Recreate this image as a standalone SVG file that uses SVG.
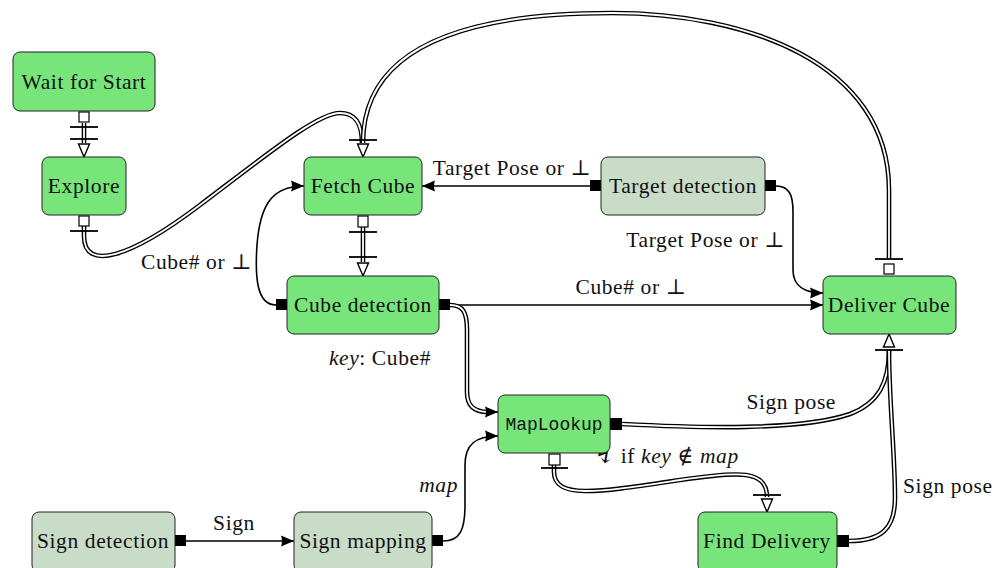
<svg xmlns="http://www.w3.org/2000/svg" width="1003" height="568" viewBox="0 0 1003 568">
<style>
.n rect{stroke:#222;stroke-width:1}
.g rect{fill:#77e57a}
.p rect{fill:#c8dcc8}
text{font-family:"Liberation Serif","DejaVu Serif",serif;font-size:21.5px;letter-spacing:0.6px;fill:#111}
.n text{text-anchor:middle}
.mono{font-family:"Liberation Mono","DejaVu Sans Mono",monospace;font-size:18px;letter-spacing:0}
.s{fill:none;stroke:#000;stroke-width:1.6}
.do{fill:none;stroke:#000;stroke-width:4.6}
.di{fill:none;stroke:#fff;stroke-width:1.8}
.bar{stroke:#000;stroke-width:1.8}
.ws{fill:#fff;stroke:#000;stroke-width:1.2}
.bs{fill:#000}
.it{font-style:italic}
.lt{font-size:24px}
</style>
<defs>
<marker id="fa" markerUnits="userSpaceOnUse" markerWidth="14" markerHeight="12" refX="13" refY="6" orient="auto" viewBox="0 0 14 12">
<path d="M0,0.5 L13,6 L0,11.5 Q2,6 0,0.5 z" fill="#000"/>
</marker>
<marker id="oa" markerUnits="userSpaceOnUse" markerWidth="16" markerHeight="14" refX="14" refY="7" orient="auto" viewBox="0 0 16 14">
<path d="M1,1.5 L14,7 L1,12.5 z" fill="#fff" stroke="#000" stroke-width="1.4"/>
</marker>
</defs>

<g id="connectors">
<!-- Wait for Start -> Explore -->
<path class="do" d="M84 123 L84 143"/>
<path class="di" d="M84 123 L84 157" marker-end="url(#oa)"/>
<rect class="ws" x="79" y="112" width="10" height="10"/>
<line class="bar" x1="70" y1="127" x2="98" y2="127"/>
<line class="bar" x1="70" y1="139" x2="98" y2="139"/>

<!-- Explore -> Fetch Cube -->
<path class="do" d="M84 226 L84 236 C84 272 130 258 200 205 C270 152 318 113 340 113 C356 113 362 124 362 143"/>
<path class="di" d="M84 226 L84 236 C84 272 130 258 200 205 C270 152 318 113 340 113 C356 113 362 124 362 143"/>
<rect class="ws" x="79" y="216" width="10" height="10"/>
<line class="bar" x1="70" y1="231" x2="98" y2="231"/>

<!-- Deliver Cube -> Fetch Cube (top arc) -->
<path class="do" d="M889 258 L889 190 C889 62 745 13 612 13 C442 13 363 58 363 143"/>
<path class="di" d="M889 258 L889 190 C889 62 745 13 612 13 C442 13 363 58 363 143"/>
<path class="di" d="M363 140 L363 157" marker-end="url(#oa)"/>
<line class="bar" x1="349" y1="140" x2="377" y2="140"/>
<rect class="ws" x="884" y="264" width="10" height="10"/>
<line class="bar" x1="875" y1="259" x2="903" y2="259"/>

<!-- Fetch Cube -> Cube detection -->
<path class="do" d="M363 227 L363 262"/>
<path class="di" d="M363 227 L363 276" marker-end="url(#oa)"/>
<rect class="ws" x="358" y="216" width="10" height="11"/>
<line class="bar" x1="349" y1="232" x2="377" y2="232"/>
<line class="bar" x1="349" y1="257" x2="377" y2="257"/>

<!-- Target detection -> Fetch Cube -->
<path class="s" d="M590 186 L422 186" marker-end="url(#fa)"/>
<rect class="bs" x="590" y="180" width="11" height="11"/>

<!-- Target detection -> Deliver Cube -->
<path class="s" d="M776 186 C790 186 793 196 793 212 L793 270 C793 286 805 293 823 293" marker-end="url(#fa)"/>
<rect class="bs" x="765" y="180" width="11" height="11"/>

<!-- Cube detection -> Fetch Cube -->
<path class="s" d="M276 305 C256 305 255 275 257 245 C260 205 272 186 304 186" marker-end="url(#fa)"/>
<rect class="bs" x="276" y="299" width="11" height="11"/>

<!-- Cube detection -> Deliver Cube -->
<path class="s" d="M450 305 L823 305" marker-end="url(#fa)"/>

<!-- Cube detection -> MapLookup -->
<path class="do" d="M450 305 C463 305 467 312 467 330 L467 392 C467 406 474 412 488 412"/>
<path class="di" d="M450 305 C463 305 467 312 467 330 L467 392 C467 406 474 412 488 412"/>
<path class="s" d="M486 412 L498 412" marker-end="url(#fa)"/>
<rect class="bs" x="439" y="299" width="11" height="11"/>

<!-- Sign mapping -> MapLookup -->
<path class="s" d="M443 541 C460 541 465 530 465 505 L465 465 C465 445 475 436 498 436" marker-end="url(#fa)"/>
<rect class="bs" x="432" y="535" width="11" height="11"/>

<!-- Sign detection -> Sign mapping -->
<path class="s" d="M186 541 L294 541" marker-end="url(#fa)"/>
<rect class="bs" x="175" y="535" width="11" height="11"/>

<!-- MapLookup -> Deliver Cube -->
<path class="do" d="M622 424 C700 428 800 431 850 414 C879 403 889 382 889 350"/>
<path class="di" d="M622 424 C700 428 800 431 850 414 C879 403 889 382 889 350"/>
<rect class="bs" x="610" y="418" width="12" height="12"/>

<!-- Find Delivery -> Deliver Cube -->
<path class="do" d="M849 541 C882 541 895 528 895 498 C895 455 889 400 889 350"/>
<path class="di" d="M849 541 C882 541 895 528 895 498 C895 455 889 400 889 350"/>
<path class="di" d="M889 352 L889 334" marker-end="url(#oa)"/>
<line class="bar" x1="875" y1="350" x2="903" y2="350"/>
<rect class="bs" x="837" y="535" width="12" height="12"/>

<!-- MapLookup -> Find Delivery -->
<path class="do" d="M554 465 L554 472 C554 500 600 492 680 480 C740 471 767 470 767 497"/>
<path class="di" d="M554 465 L554 472 C554 500 600 492 680 480 C740 471 767 470 767 497"/>
<path class="di" d="M767 494 L767 512" marker-end="url(#oa)"/>
<rect class="ws" x="549" y="454" width="11" height="11"/>
<line class="bar" x1="541" y1="468" x2="568" y2="468"/>
<line class="bar" x1="753" y1="495" x2="781" y2="495"/>

<!-- labels -->
<text x="512" y="175" text-anchor="middle">Target Pose or ⊥</text>
<text x="785" y="247" text-anchor="end">Target Pose or ⊥</text>
<text x="252" y="269" text-anchor="end">Cube# or ⊥</text>
<text x="631" y="294" text-anchor="middle">Cube# or ⊥</text>
<text x="431" y="365" text-anchor="end"><tspan class="it">key</tspan>: Cube#</text>
<text x="836" y="409" text-anchor="end">Sign pose</text>
<text x="594" y="463"><tspan class="lt">↯</tspan> if <tspan class="it">key</tspan> ∉ <tspan class="it">map</tspan></text>
<text x="458" y="492" text-anchor="end" class="it">map</text>
<text x="903" y="493">Sign pose</text>
<text x="234" y="530" text-anchor="middle">Sign</text>
</g>

<g id="wait-for-start" class="n g"><rect x="13" y="52" width="142" height="59" rx="7"/><text x="84" y="89">Wait for Start</text></g>
<g id="explore" class="n g"><rect x="42" y="157" width="84" height="58" rx="7"/><text x="84" y="193">Explore</text></g>
<g id="fetch-cube" class="n g"><rect x="304" y="157" width="118" height="58" rx="7"/><text x="363" y="193">Fetch Cube</text></g>
<g id="target-detection" class="n p"><rect x="601" y="157" width="164" height="58" rx="7"/><text x="683" y="193">Target detection</text></g>
<g id="cube-detection" class="n g"><rect x="287" y="276" width="152" height="58" rx="7"/><text x="363" y="312">Cube detection</text></g>
<g id="deliver-cube" class="n g"><rect x="823" y="276" width="133" height="58" rx="7"/><text x="889" y="312">Deliver Cube</text></g>
<g id="maplookup" class="n g"><rect x="498" y="395" width="112" height="58" rx="7"/><text x="554" y="430" class="mono">MapLookup</text></g>
<g id="find-delivery" class="n g"><rect x="698" y="512" width="139" height="60" rx="7"/><text x="767" y="548">Find Delivery</text></g>
<g id="sign-detection" class="n p"><rect x="32" y="512" width="143" height="60" rx="7"/><text x="103" y="548">Sign detection</text></g>
<g id="sign-mapping" class="n p"><rect x="294" y="512" width="138" height="60" rx="7"/><text x="363" y="548">Sign mapping</text></g>
</svg>
